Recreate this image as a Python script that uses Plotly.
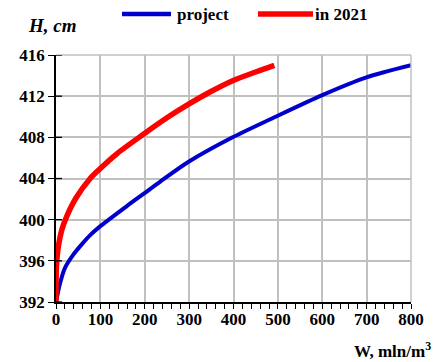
import plotly.graph_objects as go

# Data
project_W = [0, 9, 20, 39, 58, 77, 98, 159, 197, 235, 298, 398, 490, 600, 698, 800]
project_H = [392, 393.8, 395.3, 396.6, 397.6, 398.5, 399.3, 401.3, 402.5, 403.7, 405.6, 408.0, 409.9, 412.1, 413.8, 415.0]

y2021_W = [0, 1, 5, 13, 24, 45, 77, 98, 137, 197, 250, 298, 347, 398, 450, 492]
y2021_H = [392, 395.5, 397.3, 399, 400.3, 402.1, 404, 404.9, 406.4, 408.3, 409.9, 411.2, 412.4, 413.5, 414.35, 415.0]

series_names = ["project", "in 2021"]
y_ticks = [392, 396, 400, 404, 408, 412, 416]
x_ticks = [0, 100, 200, 300, 400, 500, 600, 700, 800]

BLUE = "#0000CC"
RED = "#FF0000"
FONT = "Liberation Serif"

fig = go.Figure()
fig.add_trace(go.Scatter(x=project_W, y=project_H, mode="lines", name=series_names[0],
                         line=dict(color=BLUE, width=4, shape="spline", smoothing=0.8)))
fig.add_trace(go.Scatter(x=y2021_W, y=y2021_H, mode="lines", name=series_names[1],
                         line=dict(color=RED, width=5.5, shape="spline", smoothing=0.8)))

# plot area in pixels: x 56..411, y 55..302
L, R, T, B = 56, 411, 55, 302
W, H = 435, 362

def px(x):
    return (x - L) / (R - L)

def py(y):
    return (B - y) / (B - T)

fig.update_layout(
    width=W, height=H,
    font=dict(family=FONT, size=17, color="black"),
    margin=dict(l=L, r=W - R, t=T, b=H - B),
    paper_bgcolor="white", plot_bgcolor="white",
    showlegend=False,
    xaxis=dict(range=[0, 800], tickmode="array", tickvals=x_ticks,
               ticktext=["<b>%d</b>" % v for v in x_ticks],
               showgrid=True, gridcolor="#c0c0c0", gridwidth=1.5,
               showline=True, linecolor="black", linewidth=1.5, zeroline=False,
               ticks="outside", ticklen=5, tickwidth=1.3, tickcolor="black",
               minor=dict(tick0=0, dtick=20, ticks="outside", ticklen=5, tickwidth=1.3,
                          tickcolor="black", showgrid=False),
               ticklabelstandoff=-4),
    yaxis=dict(range=[392, 416], tickmode="array", tickvals=y_ticks,
               ticktext=["<b>%d</b>" % v for v in y_ticks],
               showgrid=True, gridcolor="#c0c0c0", gridwidth=1.5,
               showline=True, linecolor="black", linewidth=1.5, zeroline=False,
               ticks="outside", ticklen=6, tickwidth=1.3, tickcolor="black"),
)

shapes = [
    dict(type="line", xref="paper", yref="paper", x0=0, x1=1, y0=1, y1=1, line=dict(color="#c0c0c0", width=1.5)),
    dict(type="line", xref="paper", yref="paper", x0=1, x1=1, y0=0, y1=1, line=dict(color="#c0c0c0", width=1.5)),
    dict(type="line", xref="paper", yref="paper", x0=px(122), x1=px(171), y0=py(14), y1=py(14), line=dict(color=BLUE, width=4.5)),
    dict(type="line", xref="paper", yref="paper", x0=px(258), x1=px(313), y0=py(14), y1=py(14), line=dict(color=RED, width=5.5)),
]
for v in y_ticks:
    shapes.append(dict(type="line", xref="paper", yref="y", x0=0, x1=px(L + 6), y0=v, y1=v,
                       line=dict(color="black", width=1.3)))
fig.update_layout(shapes=shapes)

fig.add_annotation(x=px(175), y=py(14), xref="paper", yref="paper", text="<b>" + series_names[0] + "</b>",
                   showarrow=False, xanchor="left", yanchor="middle", font=dict(family=FONT, size=17, color="black"))
fig.add_annotation(x=px(313), y=py(14), xref="paper", yref="paper", text="<b>" + series_names[1] + "</b>",
                   showarrow=False, xanchor="left", yanchor="middle", font=dict(family=FONT, size=17, color="black"))
fig.add_annotation(x=px(26), y=py(26), xref="paper", yref="paper", text="<b><i>H, cm</i></b>",
                   showarrow=False, xanchor="left", yanchor="middle",
                   font=dict(family=FONT, size=19, color="black"))
fig.add_annotation(x=px(433), y=py(350), xref="paper", yref="paper", text="<b>W, mln/m<sup>3</sup></b>",
                   showarrow=False, xanchor="right", yanchor="middle",
                   font=dict(family=FONT, size=17, color="black"))

fig.write_html("out.html")
